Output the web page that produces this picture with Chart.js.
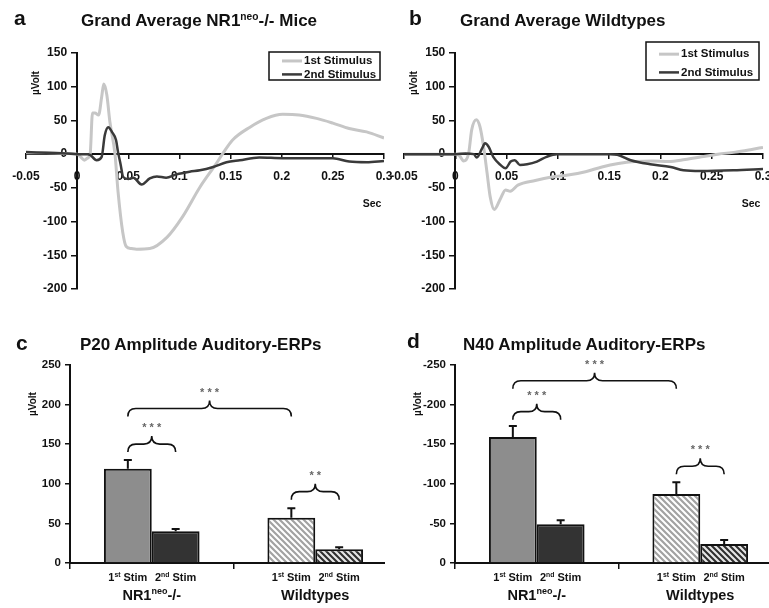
<!DOCTYPE html>
<html>
<head>
<meta charset="utf-8">
<script src="https://cdn.jsdelivr.net/npm/chart.js@4.4.1/dist/chart.umd.min.js"></script>
<style>
  body { margin: 0; background: #fff; width: 769px; height: 608px; position: relative; overflow: hidden;
         font-family: 'Liberation Sans', Arial, sans-serif; color: #111; }
  .panel { position: absolute; overflow: hidden; }
  .panel canvas { position: absolute; left: 0; top: 0; }
  .lbl { position: absolute; font-weight: bold; white-space: nowrap; line-height: 1; }
  .lbl sup { font-size: 60%; vertical-align: baseline; position: relative; top: -0.55em; }
</style>
</head>
<body>
<div class="panel" style="left:0;top:0;width:395px;height:300px"><canvas id="chartA" width="395" height="300"></canvas></div>
<div class="panel" style="left:385px;top:0;width:384px;height:300px"><canvas id="chartB" width="384" height="300"></canvas></div>
<div class="panel" style="left:0;top:300px;width:385px;height:308px"><canvas id="chartC" width="400" height="308"></canvas></div>
<div class="panel" style="left:385px;top:300px;width:384px;height:308px"><canvas id="chartD" width="400" height="308"></canvas></div>

<div class="lbl" style="left:14px;top:7px;font-size:21px">a</div>
<div class="lbl" style="left:81px;top:12px;font-size:17px">Grand Average NR1<sup>neo</sup>-/- Mice</div>
<div class="lbl" style="left:409px;top:7px;font-size:21px">b</div>
<div class="lbl" style="left:460px;top:12px;font-size:17px">Grand Average Wildtypes</div>
<div class="lbl" style="left:16px;top:332px;font-size:21px">c</div>
<div class="lbl" style="left:80px;top:336px;font-size:17px">P20 Amplitude Auditory-ERPs</div>
<div class="lbl" style="left:407px;top:330px;font-size:21px">d</div>
<div class="lbl" style="left:463px;top:336px;font-size:17px">N40 Amplitude Auditory-ERPs</div>

<script>
// grand average traces (time in s, amplitude in µV)
const aTime1 = [-0.05, -0.03, -0.01, 0, 0.004, 0.007, 0.01, 0.0127, 0.015, 0.0175, 0.021, 0.024, 0.026, 0.029, 0.032, 0.037, 0.04, 0.0445, 0.048, 0.053, 0.058, 0.071, 0.088, 0.103, 0.12, 0.136, 0.142, 0.152, 0.169, 0.185, 0.201, 0.217, 0.234, 0.25, 0.266, 0.283, 0.3];
const aVolt1 = [2, 2, 1, 0, -5, -9, -6, 0, 61, 61, 58, 85, 104, 88, 48, 0, -56, -115, -137, -140, -141, -140, -123, -93, -49, -14, 0, 21, 40, 53, 59, 58, 53, 46, 38, 33, 24];
const aTime2 = [-0.05, -0.03, -0.01, 0, 0.01, 0.0127, 0.019, 0.024, 0.027, 0.0305, 0.034, 0.038, 0.04, 0.0426, 0.045, 0.05, 0.055, 0.063, 0.071, 0.078, 0.087, 0.097, 0.11, 0.12, 0.133, 0.146, 0.159, 0.178, 0.201, 0.234, 0.25, 0.266, 0.283, 0.3];
const aVolt2 = [3, 2, 1, 0, 0, -1, -9, -4, 28, 40, 33, 21, 3, -16, -34, -37, -35, -45, -36, -33, -35, -30, -26, -24, -19, -12, -9, -5, -6, -6, -6, -11, -12, -10];

const bTime1 = [-0.05, -0.02, 0, 0.004, 0.008, 0.013, 0.016, 0.0205, 0.024, 0.0276, 0.031, 0.034, 0.038, 0.044, 0.049, 0.0536, 0.061, 0.078, 0.094, 0.11, 0.127, 0.143, 0.159, 0.175, 0.192, 0.208, 0.224, 0.24, 0.256, 0.273, 0.289, 0.3];
const bVolt1 = [0, 0, 0, -2, -10, 1, 36, 51, 41, 11, -28, -63, -82, -66, -53, -55, -46, -39, -34, -31, -26, -19, -14, -11, -10, -11, -8, -4, 0, 3, 7, 10];
const bTime2 = [-0.05, -0.02, 0, 0.01, 0.018, 0.021, 0.026, 0.029, 0.0325, 0.037, 0.044, 0.049, 0.054, 0.058, 0.063, 0.07, 0.0796, 0.089, 0.099, 0.12, 0.151, 0.158, 0.171, 0.19, 0.21, 0.2225, 0.239, 0.271, 0.3];
const bVolt2 = [0, 0, 0, 1, 0, -5, 8, 16, 11, -4, -16, -21, -11, -9, -16, -15, -11, -4, 0, 0, 0, -1, -9, -15, -19, -24, -25, -24, -22];

const stimLabels = ['1st Stimulus', '2nd Stimulus'];

// amplitude bars: ^...^ marks superscript
const groups = ['NR1^neo^-/-', 'Wildtypes'];
const barStims = ['1^st^ Stim', '2^nd^ Stim'];
const p20First = [119, 57];
const p20Second = [40, 17.5];
const p20FirstErr = [11, 12];
const p20SecondErr = [3, 2.5];
const n40First = [-159, -87];
const n40Second = [-49, -24];
const n40FirstErr = [14, 15];
const n40SecondErr = [5, 5];
// significance braces: [dataset, index] -> [dataset, index], level, stars
const p20Braces = [
  { from: [0, 0], to: [0, 1], at: 185, stars: '* * *' },
  { from: [0, 0], to: [1, 0], at: 140, stars: '* * *' },
  { from: [0, 1], to: [1, 1], at: 80, stars: '* *' }
];
const n40Braces = [
  { from: [0, 0], to: [0, 1], at: -220, stars: '* * *' },
  { from: [0, 0], to: [1, 0], at: -181, stars: '* * *' },
  { from: [0, 1], to: [1, 1], at: -112, stars: '* * *' }
];

const FONT = "'Liberation Sans', Arial, sans-serif";
Chart.defaults.font.family = FONT;
Chart.defaults.color = '#111';
Chart.defaults.animation = false;

function pts(t, v) {
  return t.map((x, i) => ({ x: x, y: v[i] }));
}

function hatch(bg, fg) {
  const c = document.createElement('canvas');
  c.width = c.height = 6;
  const g = c.getContext('2d');
  g.fillStyle = bg;
  g.fillRect(0, 0, 6, 6);
  g.strokeStyle = fg;
  g.lineWidth = 2.2;
  g.beginPath();
  for (let k = -1; k <= 1; k++) {
    g.moveTo(k * 6 - 1, -1);
    g.lineTo(k * 6 + 7, 7);
  }
  g.stroke();
  return g.createPattern(c, 'repeat');
}

// text with ^sup^ parts, centred at x, baseline y
function richText(ctx, str, x, y, size) {
  const parts = str.split('^');
  let total = 0;
  parts.forEach((p, i) => {
    ctx.font = 'bold ' + (i % 2 ? size * 0.62 : size) + 'px ' + FONT;
    total += ctx.measureText(p).width;
  });
  let cx = x - total / 2;
  ctx.textAlign = 'left';
  ctx.textBaseline = 'alphabetic';
  parts.forEach((p, i) => {
    ctx.font = 'bold ' + (i % 2 ? size * 0.62 : size) + 'px ' + FONT;
    ctx.fillText(p, cx, i % 2 ? y - size * 0.38 : y);
    cx += ctx.measureText(p).width;
  });
}

const lineExtras = {
  id: 'lineExtras',
  afterDraw(chart, args, opts) {
    const { ctx, chartArea: ca, scales } = chart;
    ctx.save();
    // boxed legend
    const bx = ca.right - 4 - opts.w, by = ca.top + opts.dy;
    ctx.fillStyle = '#fff';
    ctx.fillRect(bx, by, opts.w, opts.h);
    ctx.strokeStyle = '#111';
    ctx.lineWidth = 1.5;
    ctx.strokeRect(bx, by, opts.w, opts.h);
    ctx.font = 'bold 11.5px ' + FONT;
    ctx.textBaseline = 'middle';
    ctx.textAlign = 'left';
    chart.data.datasets.forEach((ds, i) => {
      const y = by + opts.h * (0.32 + 0.48 * i);
      ctx.strokeStyle = ds.borderColor;
      ctx.lineWidth = ds.borderWidth;
      ctx.beginPath();
      ctx.moveTo(bx + 13, y);
      ctx.lineTo(bx + 33, y);
      ctx.stroke();
      ctx.fillStyle = '#111';
      ctx.fillText(ds.label, bx + 35, y);
    });
    // axis names
    ctx.fillStyle = '#111';
    ctx.font = 'bold 10.5px ' + FONT;
    ctx.textAlign = 'center';
    ctx.fillText('Sec', ca.right - 12, scales.y.getPixelForValue(0) + 50);
    ctx.translate(ca.left + 10, ca.top + 30);
    ctx.rotate(-Math.PI / 2);
    ctx.font = 'bold 10px ' + FONT;
    ctx.fillText('µVolt', 0, 0);
    ctx.restore();
  }
};

function lineChart(id, t1, v1, t2, v2, pad, legend) {
  return new Chart(document.getElementById(id), {
    type: 'line',
    data: {
      datasets: [
        { label: stimLabels[0], data: pts(t1, v1), borderColor: '#c6c6c6', borderWidth: 3, order: 1 },
        { label: stimLabels[1], data: pts(t2, v2), borderColor: '#3a3a3a', borderWidth: 2.5, order: 0 }
      ]
    },
    options: {
      responsive: false,
      events: [],
      layout: { padding: pad },
      elements: { point: { radius: 0 }, line: { cubicInterpolationMode: 'monotone' } },
      plugins: { legend: { display: false }, tooltip: { enabled: false }, lineExtras: legend },
      scales: {
        x: {
          type: 'linear', min: -0.05, max: 0.3, position: { y: 0 },
          ticks: { stepSize: 0.05, font: { size: 12, weight: 'bold' }, padding: 11, maxRotation: 0,
                   callback: v => String(Math.round(v * 100) / 100) },
          grid: { drawOnChartArea: false, tickLength: 4, color: '#111', lineWidth: 1.5 },
          border: { color: '#111', width: 2 },
          afterFit(s) { s.paddingLeft = 0; s.paddingRight = 0; }
        },
        y: {
          type: 'linear', min: -200, max: 150, position: { x: 0 },
          ticks: { stepSize: 50, font: { size: 12, weight: 'bold' }, callback: v => v + '   ' },
          grid: { drawOnChartArea: false, tickLength: 5, color: '#111', lineWidth: 1.5 },
          border: { color: '#111', width: 2 }
        }
      }
    },
    plugins: [lineExtras]
  });
}

lineChart('chartA', aTime1, aVolt1, aTime2, aVolt2,
  { left: 26, right: 11, top: 53, bottom: 11 }, { w: 111, h: 28, dy: -1 });
lineChart('chartB', bTime1, bVolt1, bTime2, bVolt2,
  { left: 19, right: 6, top: 53, bottom: 11 }, { w: 113, h: 38, dy: -11 });

const barExtras = {
  id: 'barExtras',
  afterDraw(chart, args, opts) {
    const { ctx, chartArea: ca, scales } = chart;
    const y = scales.y;
    ctx.save();
    // error bars
    ctx.strokeStyle = '#111';
    ctx.lineWidth = 2;
    chart.data.datasets.forEach((ds, di) => {
      chart.getDatasetMeta(di).data.forEach((bar, i) => {
        const v = ds.data[i];
        const tip = y.getPixelForValue(v + Math.sign(v) * opts.errors[di][i]);
        ctx.beginPath();
        ctx.moveTo(bar.x, bar.y);
        ctx.lineTo(bar.x, tip);
        ctx.moveTo(bar.x - 4, tip);
        ctx.lineTo(bar.x + 4, tip);
        ctx.stroke();
      });
    });
    // braces
    opts.braces.forEach(b => {
      const x1 = chart.getDatasetMeta(b.from[0]).data[b.from[1]].x;
      const x2 = chart.getDatasetMeta(b.to[0]).data[b.to[1]].x;
      const yEnd = y.getPixelForValue(b.at);
      const h = 16, r = 8;
      const yLine = yEnd - h / 2, yTip = yEnd - h, mid = (x1 + x2) / 2;
      ctx.lineWidth = 1.6;
      ctx.beginPath();
      ctx.moveTo(x1, yEnd);
      ctx.quadraticCurveTo(x1, yLine, x1 + r, yLine);
      ctx.lineTo(mid - r, yLine);
      ctx.quadraticCurveTo(mid, yLine, mid, yTip);
      ctx.quadraticCurveTo(mid, yLine, mid + r, yLine);
      ctx.lineTo(x2 - r, yLine);
      ctx.quadraticCurveTo(x2, yLine, x2, yEnd);
      ctx.stroke();
      ctx.fillStyle = '#666';
      ctx.font = 'bold 11px ' + FONT;
      ctx.textAlign = 'center';
      ctx.textBaseline = 'middle';
      ctx.fillText(b.stars, mid, yTip - 8);
    });
    // category labels
    ctx.fillStyle = '#111';
    chart.data.datasets.forEach((ds, di) => {
      chart.getDatasetMeta(di).data.forEach(bar => {
        richText(ctx, barStims[di], bar.x, ca.bottom + 18, 11);
      });
    });
    chart.data.labels.forEach((lab, i) => {
      richText(ctx, lab, scales.x.getPixelForValue(i), ca.bottom + 37, 14.5);
    });
    // axis name
    ctx.translate(ca.left - 37, ca.top + 39);
    ctx.rotate(-Math.PI / 2);
    ctx.font = 'bold 10px ' + FONT;
    ctx.textAlign = 'center';
    ctx.textBaseline = 'middle';
    ctx.fillText('µVolt', 0, 0);
    ctx.restore();
  }
};

function barChart(id, first, second, firstErr, secondErr, yOpts, braces) {
  return new Chart(document.getElementById(id), {
    type: 'bar',
    data: {
      labels: groups,
      datasets: [
        { label: barStims[0], data: first, backgroundColor: ['#8d8d8d', hatch('#ffffff', '#a2a2a2')] },
        { label: barStims[1], data: second, backgroundColor: ['#333333', hatch('#2e2e2e', '#e6e6e6')] }
      ]
    },
    options: {
      responsive: false,
      events: [],
      layout: { padding: { left: 0, right: 3, top: 65, bottom: 39 } },
      datasets: { bar: { barPercentage: 1, categoryPercentage: 0.585, borderColor: '#111', borderWidth: 2 } },
      plugins: { legend: { display: false }, tooltip: { enabled: false },
                 barExtras: { errors: [firstErr, secondErr], braces: braces } },
      scales: {
        x: {
          ticks: { display: false },
          grid: { drawOnChartArea: false, tickLength: 6, color: '#111', lineWidth: 1.5, offset: true },
          border: { color: '#111', width: 2 }
        },
        y: Object.assign({
          ticks: { stepSize: 50, font: { size: 11.5, weight: 'bold' }, padding: 4 },
          grid: { drawOnChartArea: false, tickLength: 5, color: '#111', lineWidth: 1.5 },
          border: { color: '#111', width: 2 },
          afterFit(s) { s.width = 70; }
        }, yOpts)
      }
    },
    plugins: [barExtras]
  });
}

barChart('chartC', p20First, p20Second, p20FirstErr, p20SecondErr, { min: 0, max: 250 }, p20Braces);
barChart('chartD', n40First, n40Second, n40FirstErr, n40SecondErr, { min: -250, max: 0, reverse: true }, n40Braces);
</script>
</body>
</html>
